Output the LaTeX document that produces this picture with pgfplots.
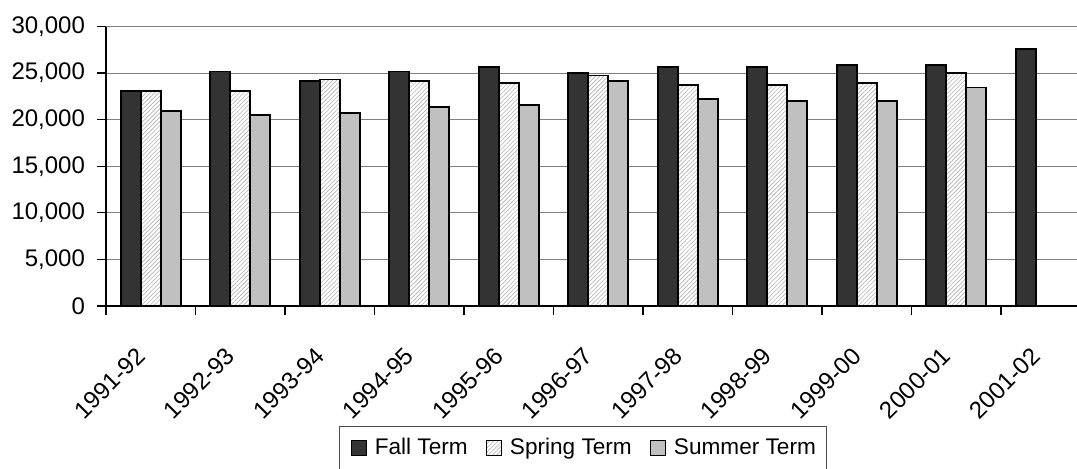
\documentclass[border=0pt]{standalone}
\usepackage{pgfplots}
\pgfplotsset{compat=1.18}
\usepackage{fontspec}
\setmainfont{Liberation Sans}
\usetikzlibrary{patterns.meta}
\definecolor{fallc}{HTML}{333333}
\definecolor{sumc}{HTML}{C0C0C0}
\newcommand{\fs}{\fontsize{11.3}{13.5}\selectfont}
\newcommand{\ts}{\fontsize{12}{14}\selectfont}
\pgfplotsset{
  sqlegend/.style={legend image code/.code={\draw[##1,line width=0.6pt] (0pt,-3.75pt) rectangle (7.5pt,3.75pt);}},
}
\begin{document}
\begin{tikzpicture}
\begin{scope}
\clip (-53pt,-81pt) rectangle (485.5pt,153pt);
\begin{axis}[
  at={(0,0)}, anchor=south west,
  scale only axis, width=492.25pt, height=139.75pt,
  xmin=-0.5, xmax=10.5, ymin=0, ymax=30000,
  ybar=0pt, bar width=10pt,
  axis x line=bottom, axis y line=left,
  axis line style={-, black, line width=0.6pt},
  ytick={0,5000,...,30000},
  scaled y ticks=false,
  yticklabel style={/pgf/number format/1000 sep={,}, xshift=-2.5pt},
  ymajorgrids, grid style={black!50, line width=0.5pt},
  xtick={0,...,10},
  xticklabels={1991-92,1992-93,1993-94,1994-95,1995-96,1996-97,1997-98,1998-99,1999-00,2000-01,2001-02},
  minor xtick={-0.5,0.5,...,10.5},
  tick align=outside,
  major tick length=4.5pt, minor tick length=4.5pt,
  major x tick style={draw=none},
  tick style={black, line width=0.6pt},
  xticklabel style={xshift=-8pt, yshift=-10.5pt, rotate=45, anchor=north east},
  /pgf/number format/assume math mode=true,
  tick label style={font=\ts},
  legend columns=3,
  legend style={at={(0.2367,-0.4293)}, anchor=north west, draw=black!70, line width=0.6pt,
    font=\fs, inner xsep=5.5pt, inner ysep=6pt,
    nodes={inner sep=0pt},
    /tikz/every odd column/.append style={column sep=4pt},
    /tikz/every even column/.append style={column sep=9pt}},
]
\addplot[fill=fallc, draw=black, line width=0.9pt, sqlegend] coordinates {
 (0,23070) (1,25180) (2,24140) (3,25180) (4,25640) (5,25000) (6,25640) (7,25640) (8,25890) (9,25890) (10,27570)};
\addplot[fill=white, draw=black, line width=0.9pt,
  postaction={pattern={Lines[angle=45,distance=1.5pt,line width=0.3pt]}, pattern color=black!30}, sqlegend] coordinates {
 (0,23070) (1,23070) (2,24320) (3,24140) (4,23960) (5,24750) (6,23680) (7,23680) (8,23930) (9,25000)};
\addplot[fill=sumc, draw=black, line width=0.9pt, sqlegend] coordinates {
 (0,20930) (1,20460) (2,20680) (3,21350) (4,21570) (5,24140) (6,22200) (7,22000) (8,22000) (9,23460)};
\legend{Fall Term, Spring Term, Summer Term}
\end{axis}
\end{scope}
\pgfresetboundingbox
\path[use as bounding box] (-53pt,-81pt) rectangle (485.5pt,153pt);
\end{tikzpicture}
\end{document}
